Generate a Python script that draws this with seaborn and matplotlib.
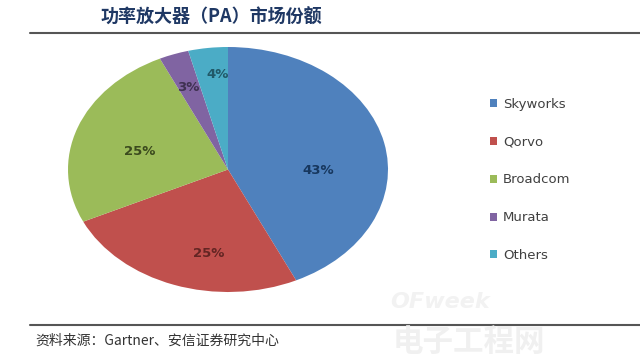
import matplotlib
matplotlib.use("Agg")
import matplotlib.pyplot as plt
import seaborn as sns
import numpy as np
from matplotlib.patches import Patch
from matplotlib.lines import Line2D

sns.set_theme(style="white")
plt.rcParams['font.family'] = ['Noto Sans CJK SC', 'DejaVu Sans']

title = "功率放大器（PA）市场份额"
source = "资料来源：Gartner、安信证券研究中心"
companies = ["Skyworks", "Qorvo", "Broadcom", "Murata", "Others"]
shares = [43, 25, 25, 3, 4]
colors = ["#4F81BD", "#C0504D", "#9BBB59", "#8064A2", "#4BACC6"]
label_colors = ["#17375E", "#632523", "#3B4A1E", "#3F3151", "#215968"]
# small nudges of the percentage labels (axes units)
label_nudge = [(-0.02, -0.135), (0.08, -0.125), (0.015, -0.06),
               (0.0, -0.02), (0.03, 0.0)]
label_scale = [1.0, 1.0, 1.0, 1.22, 1.3]

fig = plt.figure(figsize=(6.4, 3.6), dpi=100)
fig.patch.set_facecolor("white")

ax = fig.add_axes([68/640, 1-292/360, 320/640, 245/360])
wedges, texts, autotexts = ax.pie(
    shares, colors=colors, startangle=90, counterclock=False,
    autopct="%d%%", pctdistance=0.6, radius=1.0,
    wedgeprops=dict(linewidth=0),
    textprops=dict(fontsize=9.5, fontweight="bold", family="DejaVu Sans"))
for t, c, (dx, dy), f in zip(autotexts, label_colors, label_nudge, label_scale):
    t.set_color(c)
    x, y = t.get_position()
    t.set_position((x * f + dx, y * f + dy))
ax.set_aspect("auto")
ax.set_xlim(-1, 1)
ax.set_ylim(-1, 1)
ax.axis("off")

handles = [Patch(facecolor=c, edgecolor="none") for c in colors]
leg = fig.legend(handles, companies, loc="upper left",
                 bbox_to_anchor=(478/640, 1-86/360), frameon=False,
                 prop=dict(family="DejaVu Sans", size=9.5),
                 handlelength=0.55, handleheight=0.55,
                 handletextpad=0.45, labelspacing=1.88)
for t in leg.get_texts():
    t.set_color("#404040")

fig.text(211/640, 1-17/360, title, ha="center", va="center",
         fontsize=13, fontweight="bold", color="#1F3864")
# faint watermark
fig.text(390/640, 1-302/360, "OFweek", ha="left", va="center",
         fontsize=16, fontweight="bold", color="#F2F2F2",
         family="DejaVu Sans", style="italic")
fig.text(393/640, 1-342/360, "电子工程网", ha="left", va="center",
         fontsize=22, fontweight="bold", color="#F0F0F0")

fig.add_artist(Line2D([30/640, 1.0], [1-33/360, 1-33/360],
                      color="#555555", linewidth=1.5))
fig.add_artist(Line2D([30/640, 1.0], [1-325/360, 1-325/360],
                      color="#555555", linewidth=1.5))
fig.text(35/640, 1-341/360, source, ha="left", va="center",
         fontsize=10, style="italic", color="#333333")

fig.savefig("out.png", dpi=100, facecolor="white")
